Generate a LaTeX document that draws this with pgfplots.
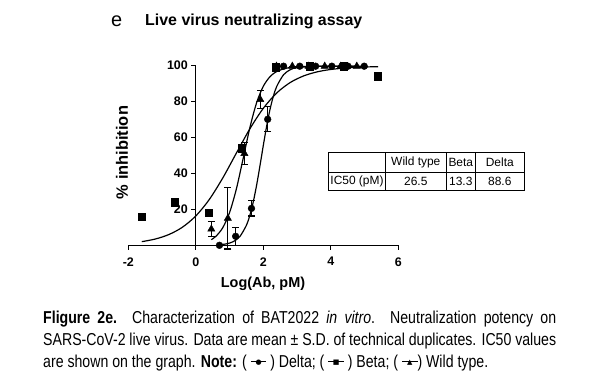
\documentclass[border=0pt]{standalone}
\usepackage{fontspec}
\setmainfont{Liberation Sans}
\newfontfamily\capfont[FakeStretch=0.82]{Liberation Sans}
\newfontfamily\symfont{DejaVu Sans}
\usepackage{pgfplots}
\pgfplotsset{compat=1.18}
\newcommand\lsym[1]{\makebox[0.9em]{\rlap{\raisebox{0.3em}{\rule{0.9em}{0.8pt}}}\hfill\raisebox{0.16em}{\symfont\fontsize{7}{7}\selectfont #1}\hfill}}

\pgfplotstableread{
x y e
-1.60 16 0
-0.62 24 0
0.38 18 0
1.37 54 2
2.37 99 0
3.38 99.5 0
4.39 99.5 0
5.39 94 0
}\beta
\pgfplotstableread{
x y e
0.46 9 4.3
0.95 15 17
1.44 51 6
1.91 81 5
2.39 99.5 0
2.86 99.5 0
3.34 99.5 0
3.82 99.5 0
4.29 99.5 0
4.77 99.5 0
}\wt
\pgfplotstableread{
x y e
0.70 0 0
1.18 5 5
1.65 20.5 4.2
2.13 70 7
2.60 99.5 0
3.08 99.5 0
3.55 99.5 0
4.03 99.5 0
4.51 99.5 0
4.99 99.5 0
}\delta

\begin{document}
\begin{tikzpicture}
\path[use as bounding box] (0,0) rectangle (594bp,-381bp);
\begin{axis}[
  at={(128.3bp,-245.3bp)}, anchor=south west,
  width=270bp, height=180bp, scale only axis,
  xmin=-2, xmax=6, ymin=0, ymax=100,
  axis lines=middle, axis line style={-, line width=1.3pt},
  xtick={-2,0,2,4,6}, xticklabels={-2,0,2,4,6},
  ytick={20,40,60,80,100}, yticklabels={20,40,60,80,100},
  hide obscured x ticks=false, hide obscured y ticks=false,
  tick align=outside, major tick length=4.5bp,
  tick style={line width=1.3pt, black},
  tick label style={font=\fontsize{12.5}{13}\selectfont\bfseries},
  xticklabel style={yshift=-4bp},
  clip=false,
  every axis plot/.append style={black},
  error bars/error bar style={line width=1.2pt},
  error bars/error mark options={rotate=90, mark size=3.4bp, line width=1.2pt},
]
% fitted curves
\addplot[smooth, line width=1.2pt, no marks] coordinates {
(-1.6,2.02) (-1.2,3.49) (-0.8,5.96) (-0.4,10.0) (0,16.31) (0.4,25.46) (0.8,37.43) (1.2,51.15) (1.6,64.65) (2.0,76.11) (2.4,84.67) (2.8,90.46) (3.2,94.14) (3.6,96.37) (4.0,97.69) (4.5,98.60) (5.0,99.05) (5.4,99.24)};
\addplot[smooth, line width=1.2pt, no marks] coordinates {
(0.46,3.13) (0.6,5.06) (0.8,9.81) (1.0,18.17) (1.2,31.16) (1.4,47.97) (1.6,65.20) (1.8,79.12) (2.0,88.35) (2.2,93.71) (2.4,96.58) (2.7,98.48) (3.0,99.15) (3.5,99.44) (4.0,99.49) (4.77,99.5)};
\addplot[smooth, line width=1.2pt, no marks] coordinates {
(0.7,0.31) (0.9,0.78) (1.1,1.95) (1.3,4.75) (1.5,11.13) (1.6,16.55) (1.7,23.91) (1.8,33.22) (1.9,44.05) (2.0,55.45) (2.1,66.28) (2.2,75.59) (2.3,82.95) (2.4,88.37) (2.6,94.75) (2.8,97.55) (3.0,98.72) (3.5,99.42) (4.0,99.49) (4.99,99.5)};
% data
\addplot[only marks, mark=square*, mark size=3.6bp, mark options={fill=black},
  error bars/.cd, y dir=both, y explicit] table[x=x,y=y,y error=e] {\beta};
\addplot[only marks, mark=triangle*, mark size=4.2bp, mark options={fill=black},
  error bars/.cd, y dir=both, y explicit] table[x=x,y=y,y error=e] {\wt};
\addplot[only marks, mark=*, mark size=3.4bp, mark options={fill=black},
  error bars/.cd, y dir=both, y explicit] table[x=x,y=y,y error=e] {\delta};
\end{axis}
% axis titles
\node[font=\fontsize{14.5}{16}\selectfont\bfseries] at (263bp,-284bp) {Log(Ab, pM)};
\node[font=\fontsize{16.5}{18}\selectfont\bfseries, rotate=90] at (122bp,-152.5bp) {\% inhibition};
% panel title
\node[anchor=base west, inner sep=0, font=\fontsize{20}{22}\selectfont] at (111bp,-26bp) {e};
\node[anchor=base west, inner sep=0, font=\fontsize{16}{18}\selectfont\bfseries] at (145bp,-25bp) {Live virus neutralizing assay};
% IC50 table
\draw[line width=0.6pt] (328.5bp,-152.3bp) rectangle (524bp,-190.7bp);
\draw[line width=0.6pt] (328.5bp,-172.7bp) -- (524bp,-172.7bp);
\foreach \xx in {385.7,446,475.7} \draw[line width=0.6pt] (\xx bp,-152.3bp) -- (\xx bp,-190.7bp);
\begin{scope}[every node/.style={font=\fontsize{12}{13}\selectfont, inner sep=0}]
\node at (415.8bp,-162.5bp) {Wild type};
\node at (460.8bp,-162.5bp) {Beta};
\node at (499.8bp,-162.5bp) {Delta};
\node at (357bp,-181.7bp) {IC50 (pM)};
\node at (415.8bp,-181.7bp) {26.5};
\node at (460.8bp,-181.7bp) {13.3};
\node at (499.8bp,-181.7bp) {88.6};
\end{scope}
% caption
\begin{scope}[every node/.style={anchor=base west, inner sep=0, font=\capfont\fontsize{17.3}{20}\selectfont}]
\node at (43bp,-323bp) {\makebox[513bp][s]{\textbf{Fligure 2e.} Characterization of BAT2022 \textit{in vitro}. Neutralization potency on}};
\node at (43bp,-345bp) {\makebox[513bp][s]{SARS-CoV-2 live virus. Data are mean \symbol{"00B1} S.D. of technical duplicates. IC50 values}};
\node at (43bp,-367bp) {are shown on the graph. \textbf{Note:} ( \lsym{●} ) Delta; ( \lsym{■} ) Beta; ( \lsym{▲}) Wild type.};
\end{scope}
\end{tikzpicture}
\end{document}
